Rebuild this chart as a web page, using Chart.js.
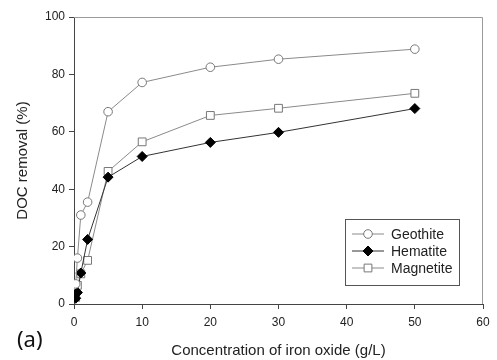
<!DOCTYPE html>
<html>
<head>
<meta charset="utf-8">
<script src="https://cdn.jsdelivr.net/npm/chart.js@4/dist/chart.umd.min.js"></script>
<style>
  body { margin: 0; background: #fff; }
  canvas { display: block; }
</style>
</head>
<body>
<canvas id="doc_canvas" width="497" height="360"></canvas>
<script>
// iron oxide dose (g/L) and DOC removal (%) per oxide
const concentration = [0.25, 0.5, 1, 2, 5, 10, 20, 30, 50]
const geothite = [7, 16, 31, 35.5, 67, 77.2, 82.5, 85.3, 88.8]
const hematite = [2, 4, 10.8, 22.5, 44.2, 51.4, 56.3, 59.8, 68.1]
const magnetite = [2.3, 6.5, 10.5, 15.2, 46.2, 56.5, 65.7, 68.2, 73.4]
const xTicks = [0, 10, 20, 30, 40, 50, 60]
const yTicks = [0, 20, 40, 60, 80, 100]

const toPoints = (ys) => concentration.map((x, i) => ({ x, y: ys[i] }))

const axisColor = '#444'
const tickFont = { family: 'Liberation Sans, Arial', size: 12 }
const titleFont = { family: 'Liberation Sans, Arial', size: 15 }

// gray frame on the top and right sides of the plot
const frameBox = {
  id: 'frameBox',
  afterDraw (chart) {
    const { ctx, chartArea: a } = chart
    ctx.save()
    ctx.strokeStyle = '#9a9a9a'
    ctx.lineWidth = 1
    ctx.beginPath()
    ctx.moveTo(a.left, a.top + 0.5)
    ctx.lineTo(a.right - 0.5, a.top + 0.5)
    ctx.lineTo(a.right - 0.5, a.bottom)
    ctx.stroke()
    ctx.restore()
  }
}

// boxed legend in the lower right of the plot, plus the panel tag
const boxLegend = {
  id: 'boxLegend',
  afterDraw (chart) {
    const { ctx } = chart
    const left = 345
    const top = 219
    const width = 114
    const height = 66
    ctx.save()
    ctx.fillStyle = '#fff'
    ctx.fillRect(left, top, width, height)
    ctx.strokeStyle = '#555'
    ctx.lineWidth = 1
    ctx.strokeRect(left + 0.5, top + 0.5, width, height)

    chart.data.datasets.forEach((ds, i) => {
      const y = top + 15 + i * 17
      ctx.strokeStyle = ds.borderColor
      ctx.lineWidth = 1
      ctx.beginPath()
      ctx.moveTo(352, y)
      ctx.lineTo(384, y)
      ctx.stroke()
      ctx.fillStyle = ds.pointBackgroundColor
      ctx.strokeStyle = ds.pointBorderColor
      Chart.helpers.drawPoint(ctx, {
        pointStyle: ds.pointStyle,
        radius: ds.pointRadius,
        borderWidth: 1,
        rotation: 0
      }, 368, y)
      ctx.fillStyle = '#222'
      ctx.font = '14px Liberation Sans, Arial'
      ctx.textBaseline = 'middle'
      ctx.textAlign = 'left'
      ctx.fillText(ds.label, 391, y + 1)
    })

    ctx.fillStyle = '#111'
    ctx.font = '22px Noto Sans'
    ctx.textBaseline = 'middle'
    ctx.fillText('(a)', 17, 341)
    ctx.restore()
  }
}

const dataset = (label, ys, style) => Object.assign({
  label,
  data: toPoints(ys),
  borderWidth: 1,
  pointBorderWidth: 1,
  pointHoverRadius: 0,
  tension: 0
}, style)

new Chart(document.getElementById('doc_canvas').getContext('2d'), {
  type: 'line',
  data: {
    datasets: [
      dataset('Geothite', geothite, {
        borderColor: '#8a8a8a',
        pointStyle: 'circle',
        pointRadius: 4.3,
        pointBackgroundColor: '#fff',
        pointBorderColor: '#777'
      }),
      dataset('Hematite', hematite, {
        borderColor: '#333',
        pointStyle: 'rectRot',
        pointRadius: 5,
        pointBackgroundColor: '#000',
        pointBorderColor: '#000'
      }),
      dataset('Magnetite', magnetite, {
        borderColor: '#8a8a8a',
        pointStyle: 'rect',
        pointRadius: 5.5,
        pointBackgroundColor: '#fff',
        pointBorderColor: '#777'
      })
    ]
  },
  options: {
    responsive: false,
    animation: false,
    layout: { padding: { top: 17, right: 14, left: 0, bottom: 0 } },
    plugins: {
      legend: { display: false },
      tooltip: { enabled: false }
    },
    scales: {
      x: {
        type: 'linear',
        min: 0,
        max: 60,
        afterFit: (scale) => { scale.height = 56 },
        afterBuildTicks: (scale) => { scale.ticks = xTicks.map(value => ({ value })) },
        grid: { drawOnChartArea: false, color: axisColor, tickLength: 5 },
        border: { color: axisColor },
        ticks: { color: '#222', font: tickFont, padding: 6, maxRotation: 0 },
        title: {
          display: true,
          text: 'Concentration of iron oxide (g/L)',
          color: '#222',
          font: titleFont,
          padding: { top: 0, bottom: 0 }
        }
      },
      y: {
        type: 'linear',
        min: 0,
        max: 100,
        afterFit: (scale) => { scale.width = 74 },
        afterBuildTicks: (scale) => { scale.ticks = yTicks.map(value => ({ value })) },
        grid: { drawOnChartArea: false, color: axisColor, tickLength: 5 },
        border: { color: axisColor },
        ticks: { color: '#222', font: tickFont, padding: 4 },
        title: {
          display: true,
          text: 'DOC removal (%)',
          color: '#222',
          font: titleFont,
          padding: { top: 14, bottom: 0 }
        }
      }
    }
  },
  plugins: [frameBox, boxLegend]
})
</script>
</body>
</html>
